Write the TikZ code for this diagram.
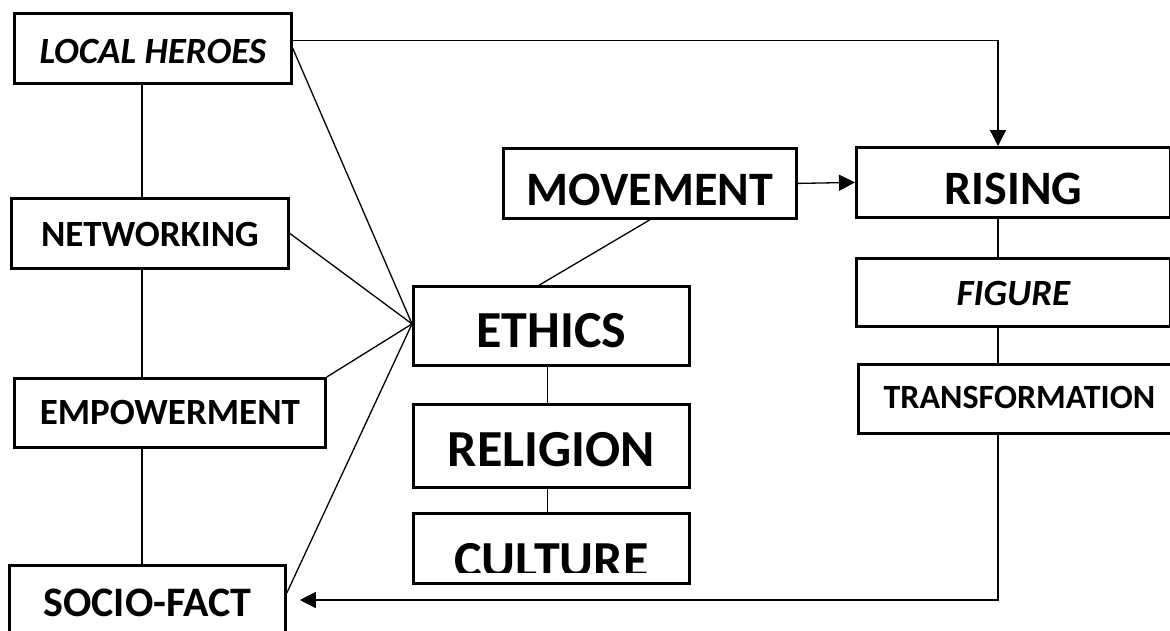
\documentclass[tikz,border=0pt]{standalone}
\usepackage{fontspec}
\setmainfont{Carlito}
\usetikzlibrary{arrows.meta, calc}

\newcommand{\hugebf}{\fontsize{52}{62}\selectfont\bfseries}
\newcommand{\bigbf}{\fontsize{48}{58}\selectfont\bfseries}
\newcommand{\midbf}{\fontsize{42}{50}\selectfont\bfseries}
\newcommand{\smallbf}{\fontsize{37}{44}\selectfont\bfseries}
\newcommand{\smallit}{\fontsize{37}{44}\selectfont\bfseries\itshape}
\newcommand{\transbf}{\fontsize{34}{40}\selectfont\bfseries}

\begin{document}
\begin{tikzpicture}[x=1pt, y=-1pt,
    box/.style={draw, line width=2.8pt, anchor=north west, inner sep=0pt, fill=white, text depth=0pt},
    link/.style={line width=1.3pt},
    arr/.style={line width=1.3pt, -{Triangle[length=16pt, width=16pt]}}]
    \useasboundingbox (0,0) rectangle (1170,630);

    % Left column
    \node[box, font=\smallit, minimum width=277pt, minimum height=70pt, text height=31pt] (lh) at (13,12) {LOCAL HEROES};
    \node[box, font=\smallbf, minimum width=277pt, minimum height=70pt, text height=27pt] (netw) at (10,197) {NETWORKING};
    \node[box, font=\smallbf, minimum width=311pt, minimum height=69pt, text height=23pt] (emp) at (13,377) {EMPOWERMENT};
    \node[box, font=\midbf, minimum width=276pt, minimum height=77pt, text height=26pt] (sf) at (8,564) {SOCIO-FACT};

    % Middle column
    \node[box, font=\bigbf, minimum width=293pt, minimum height=70pt, text height=44pt] (mov) at (502,147) {MOVEMENT};
    \node[box, font=\hugebf, minimum width=276pt, minimum height=79pt, text height=44pt] (eth) at (412,285) {ETHICS};
    \node[box, font=\hugebf, minimum width=276pt, minimum height=83pt, text height=41pt] (rel) at (412,403) {RELIGION};
    \node[box, minimum width=276pt, minimum height=70pt] (cult) at (412,512) {};
    \begin{scope}
        \clip (cult.north west) rectangle ([yshift=12pt]cult.south east);
        \node[font=\hugebf, inner sep=0pt] (cult-text) at ([yshift=-12pt]cult.center) {CULTURE};
    \end{scope}

    % Right column
    \node[box, font=\bigbf, minimum width=314pt, minimum height=70pt, text height=44pt] (rise) at (855,146) {RISING};
    \node[box, font=\smallit, minimum width=314pt, minimum height=68pt, text height=26pt] (fig) at (855,257) {FIGURE};
    \node[box, font=\transbf, minimum width=322pt, minimum height=69pt, text height=19.5pt] (trans) at (857,363) {TRANSFORMATION};

    \coordinate (spine) at (142,0);
    \coordinate (drop) at (998,0);
    \coordinate (hub) at ([yshift=2pt]eth.west);

    % Left spine
    \draw[link] (lh.south -| spine) -- (netw.north -| spine);
    \draw[link] (netw.south -| spine) -- (emp.north -| spine);
    \draw[link] (emp.south -| spine) -- (sf.north -| spine);

    % Spokes into ethics
    \draw[link] (lh.east) -- (hub);
    \draw[link] (netw.east) -- (hub);
    \draw[link] (emp.north east) -- (hub);
    \draw[link] ([yshift=-29pt]sf.north east) -- (hub);
    \draw[link] ([xshift=-12pt]eth.north) -- (mov.south);
    \draw[link] ([xshift=-4pt]eth.south) -- ([xshift=-4pt]rel.north);
    \draw[link] ([xshift=-4pt]rel.south) -- ([xshift=-4pt]cult.north);

    % Right side
    \draw[arr] (mov.east) -- (rise.west);
    \draw[arr] ([yshift=8pt]lh.east) -| (rise.north -| drop);
    \draw[link] (rise.south -| drop) -- (fig.north -| drop);
    \draw[link] (fig.south -| drop) -- (trans.north -| drop);
    \draw[arr] (trans.south -| drop) |- ([xshift=13pt, yshift=-36pt]sf.north east);
\end{tikzpicture}
\end{document}
